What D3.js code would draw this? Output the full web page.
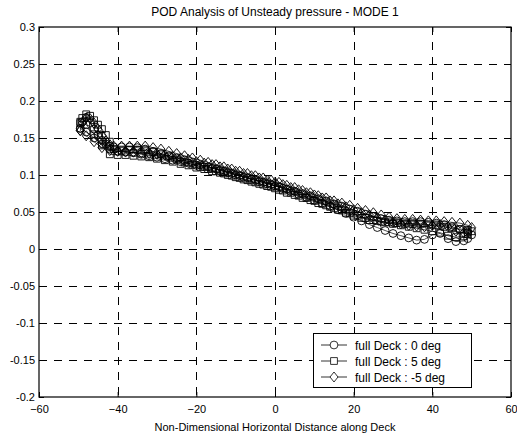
<!DOCTYPE html>
<html><head><meta charset="utf-8">
<script src="https://cdn.jsdelivr.net/npm/d3@7"></script>
<style>body{margin:0;background:#fff;}svg{display:block;font-family:"Liberation Sans",Arial,sans-serif;}</style>
</head><body>
<script>
const title = "POD Analysis of Unsteady pressure - MODE 1";
const xLabel = "Non-Dimensional Horizontal Distance along Deck";
const xTicks = [-60,-40,-20,0,20,40,60];
const yTicks = [-0.2,-0.15,-0.1,-0.05,0,0.05,0.1,0.15,0.2,0.25,0.3];
const seriesNames = ["full Deck : 0 deg","full Deck : 5 deg","full Deck : -5 deg"];
const seriesMarkers = ["circle","square","diamond"];

const xTop = [-49.5,-49,-48,-47,-46,-45,-44,-43,-42,-41,-39,-37,-35,-33,-31,-29,-27,-25,-23,-21,-19,-17,-15,-13,-11,-9,-7,-5,-3,-1,1,3,5,7,9,11,13,15,17,19,21,23,25,27,29,31,33,35,37,39,41,43,45,47,49,50];
const xBot = [49,48,46,44,42,40,38,36,34,32,30,28,26,24,22,20,18,16,14,12,10,8,6,4,2,0,-2,-4,-6,-8,-10,-12,-14,-16,-18,-20,-22,-24,-26,-28,-30,-32,-34,-36,-38,-40,-42,-44,-46,-48,-49.5];

const yTop0 = [0.163,0.172,0.178,0.171,0.162,0.154,0.147,0.142,0.139,0.138,0.138,0.138,0.137,0.135,0.132,0.129,0.126,0.123,0.120,0.117,0.114,0.111,0.108,0.105,0.102,0.099,0.096,0.093,0.090,0.087,0.084,0.081,0.078,0.075,0.072,0.068,0.065,0.061,0.058,0.054,0.051,0.047,0.044,0.041,0.039,0.038,0.037,0.037,0.037,0.036,0.035,0.033,0.030,0.026,0.022,0.019];
const yBot0 = [0.014,0.011,0.010,0.014,0.021,0.019,0.013,0.012,0.015,0.018,0.021,0.025,0.029,0.033,0.038,0.043,0.048,0.053,0.058,0.062,0.066,0.070,0.074,0.078,0.082,0.085,0.088,0.091,0.094,0.097,0.100,0.103,0.106,0.109,0.111,0.113,0.116,0.118,0.120,0.122,0.124,0.126,0.128,0.130,0.131,0.132,0.135,0.142,0.150,0.158,0.163];

const yTop5 = [0.170,0.177,0.182,0.180,0.174,0.168,0.162,0.154,0.145,0.135,0.133,0.134,0.134,0.133,0.131,0.128,0.125,0.121,0.117,0.114,0.111,0.108,0.105,0.102,0.099,0.096,0.093,0.090,0.087,0.084,0.080,0.076,0.073,0.069,0.066,0.062,0.059,0.055,0.052,0.048,0.045,0.042,0.039,0.037,0.036,0.035,0.034,0.034,0.034,0.033,0.032,0.030,0.028,0.027,0.026,0.024];
const yBot5 = [0.020,0.017,0.016,0.018,0.022,0.024,0.026,0.028,0.030,0.032,0.034,0.036,0.038,0.039,0.042,0.045,0.049,0.053,0.057,0.061,0.065,0.069,0.072,0.076,0.079,0.082,0.085,0.088,0.091,0.094,0.097,0.100,0.103,0.105,0.108,0.110,0.113,0.115,0.118,0.120,0.122,0.124,0.125,0.126,0.127,0.127,0.128,0.140,0.155,0.168,0.172];

const yTopM5 = [0.160,0.170,0.177,0.176,0.170,0.162,0.153,0.146,0.141,0.139,0.139,0.139,0.139,0.139,0.137,0.135,0.132,0.129,0.126,0.123,0.120,0.117,0.114,0.111,0.108,0.105,0.102,0.099,0.096,0.093,0.090,0.086,0.083,0.079,0.076,0.072,0.069,0.065,0.062,0.059,0.055,0.052,0.049,0.046,0.043,0.041,0.040,0.040,0.039,0.038,0.038,0.037,0.036,0.035,0.032,0.029];
const yBotM5 = [0.024,0.022,0.024,0.030,0.033,0.032,0.030,0.031,0.032,0.034,0.036,0.039,0.042,0.046,0.049,0.053,0.057,0.061,0.065,0.069,0.073,0.076,0.080,0.083,0.087,0.090,0.093,0.096,0.099,0.102,0.105,0.108,0.111,0.114,0.116,0.118,0.121,0.123,0.125,0.127,0.128,0.129,0.130,0.131,0.131,0.132,0.133,0.137,0.145,0.153,0.160];

const W = 517, H = 436;
const m = {left:39, right:6, top:27, bottom:39};
const svg = d3.select("body").append("svg").attr("width",W).attr("height",H);
const x = d3.scaleLinear().domain([-60,60]).range([m.left, W-m.right]);
const y = d3.scaleLinear().domain([-0.2,0.3]).range([H-m.bottom, m.top]);

// grid
const g = svg.append("g");
g.selectAll(".vg").data(xTicks.slice(1,-1)).join("line")
  .attr("x1",d=>Math.round(x(d))+0.5).attr("x2",d=>Math.round(x(d))+0.5).attr("y1",y(0.3)).attr("y2",y(-0.2))
  .attr("stroke","#000").attr("stroke-width",1).attr("stroke-dasharray","8,7");
g.selectAll(".hg").data(yTicks.slice(1,-1)).join("line")
  .attr("y1",d=>Math.round(y(d))+0.5).attr("y2",d=>Math.round(y(d))+0.5).attr("x1",x(-60)).attr("x2",x(60))
  .attr("stroke","#000").attr("stroke-width",1).attr("stroke-dasharray","8,7");

// axes
const xAxis = d3.axisBottom(x).tickValues(xTicks).tickSize(-5).tickPadding(8).tickFormat(d3.format("d"));
const yAxis = d3.axisLeft(y).tickValues(yTicks).tickSize(-5).tickPadding(4).tickFormat(d=>d===0?"0":String(+d.toFixed(2)));
const gx = svg.append("g").attr("transform",`translate(0,${y(-0.2)})`).call(xAxis);
const gy = svg.append("g").attr("transform",`translate(${x(-60)},0)`).call(yAxis);
[gx,gy].forEach(a=>{a.select(".domain").remove();a.selectAll("text").attr("font-size",11).attr("fill","#000").attr("font-family","Liberation Sans, Arial, sans-serif");a.selectAll("line").attr("stroke","#000");});
svg.append("g").attr("transform",`translate(0,${y(0.3)})`).call(d3.axisTop(x).tickValues(xTicks).tickSize(-5).tickFormat(""))
  .call(a=>{a.select(".domain").remove();a.selectAll("line").attr("stroke","#000");});
svg.append("g").attr("transform",`translate(${x(60)},0)`).call(d3.axisRight(y).tickValues(yTicks).tickSize(-5).tickFormat(""))
  .call(a=>{a.select(".domain").remove();a.selectAll("line").attr("stroke","#000");});

svg.append("rect").attr("x",x(-60)).attr("y",y(0.3)).attr("width",x(60)-x(-60)).attr("height",y(-0.2)-y(0.3))
  .attr("fill","none").attr("stroke","#000").attr("stroke-width",1.2);

svg.append("text").attr("x",(x(-60)+x(60))/2).attr("y",16).attr("text-anchor","middle").attr("font-size",12).text(title);
svg.append("text").attr("x",(x(-60)+x(60))/2).attr("y",431).attr("text-anchor","middle").attr("font-size",11).text(xLabel);

function markerPath(type){
  if(type==="circle") return d3.symbol(d3.symbolCircle, 48)();
  if(type==="square") return "M-3.4,-3.4H3.4V3.4H-3.4Z";
  return "M0,-5L4,0L0,5L-4,0Z";
}

const allX = xTop.concat(xBot);
const series = [yTop0.concat(yBot0), yTop5.concat(yBot5), yTopM5.concat(yBotM5)];
const line = d3.line().x(d=>x(d[0])).y(d=>y(d[1]));
series.forEach((ys,i)=>{
  const pts = allX.map((xv,j)=>[xv,ys[j]]);
  const sg = svg.append("g");
  sg.append("path").attr("d",line(pts)).attr("fill","none").attr("stroke","#000").attr("stroke-width",0.7);
  sg.selectAll("path.m").data(pts).join("path").attr("class","m")
    .attr("transform",d=>`translate(${x(d[0])},${y(d[1])})`)
    .attr("d",markerPath(seriesMarkers[i]))
    .attr("fill","none").attr("stroke","#000").attr("stroke-width",0.9);
});

// legend
const lg = svg.append("g");
lg.append("rect").attr("x",313.5).attr("y",333.5).attr("width",158).attr("height",54)
  .attr("fill","#fff").attr("stroke","#000").attr("stroke-width",1);
seriesNames.forEach((n,i)=>{
  const cy = 345 + i*16;
  lg.append("line").attr("x1",321).attr("x2",347).attr("y1",cy).attr("y2",cy).attr("stroke","#000").attr("stroke-width",0.8);
  lg.append("path").attr("transform",`translate(334,${cy})`).attr("d",markerPath(seriesMarkers[i]))
    .attr("fill","#fff").attr("stroke","#000").attr("stroke-width",0.8);
  lg.append("text").attr("x",355).attr("y",cy+4.5).attr("font-size",12).text(n);
});
</script>
</body></html>
